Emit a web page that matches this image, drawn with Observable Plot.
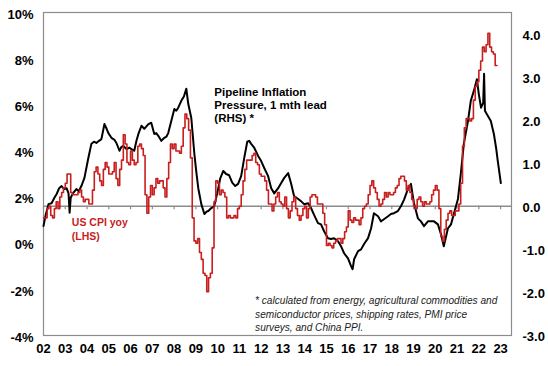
<!DOCTYPE html>
<html><head><meta charset="utf-8">
<script src="https://cdn.jsdelivr.net/npm/d3@7"></script>
<script src="https://cdn.jsdelivr.net/npm/@observablehq/plot@0.6"></script>
<style>body{margin:0;background:#fff}</style>
</head><body><div id="chart"></div>
<script>
// US CPI yoy (LHS, %), monthly from Jan 2002 to Oct 2022
const cpiStartYear = 2002;
const cpiYoY = [
  1.1,1.1,1.5,1.6,1.2,1.1,1.5,1.8,1.5,2.0,2.2,2.4,
  2.6,3.0,3.0,2.2,2.1,2.1,2.1,2.2,2.3,2.0,1.8,1.9,
  1.9,1.7,1.7,2.3,3.1,3.3,3.0,2.7,2.5,3.2,3.5,3.3,
  3.0,3.0,3.1,3.5,2.8,2.5,3.2,3.6,4.7,4.3,3.5,3.4,
  4.0,3.6,3.4,3.5,4.2,4.3,4.1,3.8,2.1,1.3,2.0,2.5,
  2.1,2.4,2.8,2.6,2.7,2.7,2.4,2.0,2.8,3.5,4.3,4.1,
  4.3,4.0,4.0,3.9,4.2,5.0,5.6,5.4,4.9,3.7,1.1,0.1,
  0.0,0.2,-0.4,-0.7,-1.3,-1.4,-2.1,-1.5,-1.3,-0.2,1.8,2.7,
  2.6,2.1,2.3,2.2,2.0,1.1,1.2,1.1,1.1,1.2,1.1,1.5,
  1.6,2.1,2.7,3.2,3.6,3.6,3.6,3.8,3.9,3.5,3.4,3.0,
  2.9,2.9,2.7,2.3,1.7,1.7,1.4,1.7,2.0,2.2,1.8,1.7,
  1.6,2.0,1.5,1.1,1.4,1.8,2.0,1.5,1.2,1.0,1.2,1.5,
  1.6,1.1,1.5,2.0,2.1,2.1,2.0,1.7,1.7,1.7,1.3,0.8,
  -0.1,0.0,-0.1,-0.2,0.0,0.1,0.2,0.2,0.0,0.2,0.5,0.7,
  1.4,1.0,0.9,1.1,1.0,1.0,0.8,1.1,1.5,1.6,1.7,2.1,
  2.5,2.7,2.4,2.2,1.9,1.6,1.7,1.9,2.2,2.0,2.2,2.1,
  2.1,2.2,2.4,2.5,2.8,2.9,2.9,2.7,2.3,2.5,2.2,1.9,
  1.6,1.5,1.9,2.0,1.8,1.6,1.8,1.7,1.7,1.8,2.1,2.3,
  2.5,2.3,1.5,0.3,0.1,0.6,1.0,1.3,1.4,1.2,1.2,1.4,
  1.4,1.7,2.6,4.2,5.0,5.4,5.4,5.3,5.4,6.2,6.8,7.0,
  7.5,7.9,8.5,8.3,8.6,9.1,8.5,8.3,8.2,7.7
];

// Pipeline Inflation Pressure, 1 mth lead (RHS)
const pipelineYears = [
  2002.00,2002.10,2002.23,2002.37,2002.50,2002.60,2002.72,2002.83,2002.95,2003.06,
  2003.15,2003.20,2003.25,2003.35,2003.51,2003.62,2003.74,2003.88,2004.06,2004.20,
  2004.32,2004.43,2004.55,2004.66,2004.80,2004.90,2004.98,2005.12,2005.25,2005.35,
  2005.49,2005.58,2005.67,2005.81,2005.94,2006.04,2006.17,2006.27,2006.36,2006.50,
  2006.63,2006.72,2006.82,2006.95,2007.09,2007.18,2007.28,2007.41,2007.55,2007.65,
  2007.73,2007.87,2008.01,2008.10,2008.19,2008.33,2008.45,2008.56,2008.65,2008.79,
  2008.93,2009.02,2009.11,2009.25,2009.39,2009.50,2009.57,2009.71,2009.84,2009.98,
  2010.12,2010.26,2010.39,2010.53,2010.67,2010.81,2010.94,2011.08,2011.22,2011.36,
  2011.45,2011.54,2011.68,2011.86,2012.00,2012.14,2012.32,2012.46,2012.60,2012.78,
  2012.92,2013.06,2013.24,2013.38,2013.51,2013.70,2013.83,2013.97,2014.16,2014.29,
  2014.43,2014.61,2014.75,2014.89,2015.07,2015.21,2015.35,2015.53,2015.67,2015.81,
  2015.99,2016.13,2016.20,2016.27,2016.45,2016.59,2016.72,2016.91,2017.05,2017.18,
  2017.37,2017.50,2017.64,2017.83,2017.96,2018.10,2018.28,2018.42,2018.56,2018.74,
  2018.88,2019.02,2019.20,2019.34,2019.48,2019.66,2019.80,2019.94,2020.12,2020.26,
  2020.39,2020.58,2020.72,2020.85,2021.04,2021.17,2021.31,2021.50,2021.63,2021.77,
  2021.91,2022.00,2022.10,2022.20,2022.24,2022.28,2022.41,2022.55,2022.69,2022.80,
  2022.87,2023.01
];
const pipelineValues = [
  -0.46,-0.20,0.05,0.07,0.20,0.28,0.42,0.47,0.40,0.42,
  0.30,-0.15,0.20,0.30,0.40,0.35,0.47,0.66,1.12,1.45,
  1.50,1.47,1.52,1.56,1.91,1.80,1.70,1.59,1.55,1.47,
  1.29,1.38,1.40,1.33,1.36,1.33,1.29,1.52,1.68,1.87,
  1.80,1.85,1.91,1.94,1.68,1.70,1.63,1.52,1.59,1.62,
  1.70,1.98,2.26,2.22,2.29,2.45,2.55,2.73,2.38,2.05,
  1.22,0.80,0.42,0.05,-0.18,-0.12,-0.11,-0.04,0.00,0.30,
  0.65,0.82,0.75,0.72,0.55,0.47,0.52,0.70,1.12,1.50,
  1.52,1.45,1.36,1.17,1.05,0.89,0.70,0.42,0.30,0.42,
  0.54,0.66,0.77,0.52,0.24,0.17,0.12,0.05,0.07,-0.04,
  -0.20,-0.39,-0.42,-0.58,-0.74,-0.76,-0.74,-0.81,-0.93,-1.09,
  -1.21,-1.39,-1.46,-1.23,-1.04,-1.00,-0.88,-0.74,-0.51,-0.16,
  -0.23,-0.35,-0.30,-0.23,-0.18,-0.16,-0.11,0.00,0.15,0.40,
  0.52,0.07,-0.28,-0.35,-0.46,-0.35,-0.35,-0.35,-0.42,-0.65,
  -0.93,-0.51,-0.42,-0.18,0.17,0.75,1.45,1.98,2.45,2.68,
  2.95,2.60,2.29,2.40,3.08,2.22,2.10,1.98,1.68,1.33,
  1.05,0.54
];

// Axis tick labels
const xTickYears = d3.range(2002, 2024);
const leftTicks = [-4, -2, 0, 2, 4, 6, 8, 10];
const rightTicks = [-3, -2, -1, 0, 1, 2, 3, 4];

// Annotations
const cpiLabel = "US CPI yoy\n(LHS)";
const pipelineLabel = "Pipeline Inflation\nPressure, 1 mth lead\n(RHS) *";
const footnote = "* calculated from energy, agricultural commodities and\nsemiconductor prices, shipping rates, PMI price\nsurveys, and China PPI.";

// Scales: left -4..10, right -3..4.5
const leftDomain = [-4, 10];
const rightDomain = [-3, 4.5];
const toLeft = v => leftDomain[0] + (v - rightDomain[0]) * (leftDomain[1] - leftDomain[0]) / (rightDomain[1] - rightDomain[0]);

const cpi = cpiYoY.map((v, i) => ({year: cpiStartYear + i / 12, value: v}));
cpi.push({year: cpi[cpi.length - 1].year + 1 / 12, value: cpi[cpi.length - 1].value});
const pipeline = pipelineYears.map((y, i) => ({year: y, value: pipelineValues[i]}));

const RED = "#c81e1e";
const GRID = "#8c8c8c";
const zero = toLeft(0);

const chart = Plot.plot({
  width: 548, height: 366,
  marginTop: 12, marginBottom: 31, marginLeft: 43, marginRight: 37,
  x: {domain: [2002, 2023.5], axis: null},
  y: {domain: leftDomain, axis: null},
  style: {fontFamily: "Arial, 'Liberation Sans', sans-serif", fontSize: "13px", fontWeight: "bold", background: "#fff", color: "#000"},
  marks: [
    Plot.frame({stroke: GRID, strokeWidth: 1.2}),
    Plot.ruleY([zero], {stroke: GRID, strokeWidth: 1.5}),
    Plot.ruleX(xTickYears, {x: d => d, y1: zero, y2: zero - 0.15, stroke: GRID, strokeWidth: 1.2}),
    Plot.line(pipeline, {x: "year", y: d => toLeft(d.value), stroke: "#000", strokeWidth: 2}),
    Plot.line(cpi, {x: "year", y: "value", curve: "step-after", stroke: RED, strokeWidth: 1.6}),
    Plot.text(leftTicks, {y: d => d, text: d => d + "%", frameAnchor: "left", textAnchor: "end", dx: -10, dy: 2, fontSize: 13}),
    Plot.text(rightTicks, {y: d => toLeft(d), text: d => d.toFixed(1), frameAnchor: "right", textAnchor: "start", dx: 11, dy: 1.5, fontSize: 13}),
    Plot.text(xTickYears, {x: d => d, text: d => String(d % 100).padStart(2, "0"), frameAnchor: "bottom", dy: 17, fontSize: 13}),
    Plot.text([cpiLabel], {x: 2003.3, y: 1.16, text: d => d, textAnchor: "start", lineAnchor: "top", lineHeight: 1.3, fill: RED, fontSize: 10.5}),
    Plot.text([pipelineLabel], {x: 2009.85, y: 6.75, text: d => d, textAnchor: "start", lineAnchor: "top", lineHeight: 1.1, fill: "#000", fontSize: 11.5}),
    Plot.text([footnote], {x: 2011.72, y: -2.24, text: d => d, textAnchor: "start", lineAnchor: "top", lineHeight: 1.32, fill: "#222", fontSize: 10.1, fontWeight: "normal", fontStyle: "italic"})
  ]
});
document.getElementById("chart").appendChild(chart);
</script>
</body></html>
